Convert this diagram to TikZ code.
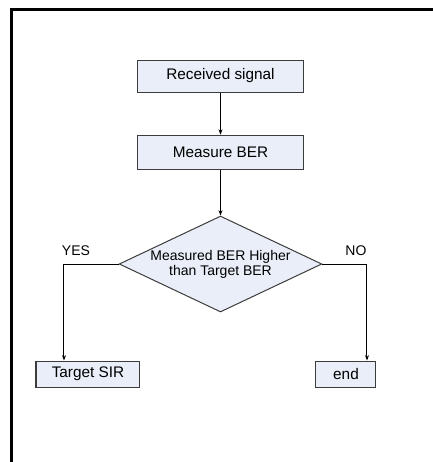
\documentclass[tikz,border=0pt]{standalone}
\usepackage{fontspec}
\setmainfont{Liberation Sans}
\usepackage{tikz}
\usetikzlibrary{shapes.geometric, arrows.meta, positioning, calc}
\definecolor{boxfill}{RGB}{233,238,248}
\definecolor{boxline}{RGB}{60,60,60}

\begin{document}
\begin{tikzpicture}[x=0.75pt,y=-0.75pt,
    >={Stealth[length=4pt,width=3pt]},
    font=\fontsize{10.5}{11.25}\selectfont,
    blockbox/.style={rectangle,draw=boxline,fill=boxfill,line width=0.75pt,inner sep=0pt,
        font=\fontsize{11.5}{13}\selectfont},
    decisionbox/.style={diamond,draw=boxline,fill=boxfill,line width=0.75pt,inner sep=0pt,aspect=2.1,
        minimum width=152pt,minimum height=72pt,align=center},
    link/.style={->,line width=0.75pt,black}]
    \useasboundingbox (0,0) rectangle (433,462);

    % Cornice
    \draw[line width=2.25pt] (12,462) -- (12,9) -- (433,9);

    % Blocchi principali
    \node[blockbox,minimum width=125pt,minimum height=24pt] (recv) at (220.5,76) {Received signal};
    \node[blockbox,minimum width=125pt,minimum height=26pt] (meas) at (220.5,152.5) {Measure BER};

    % Decisione
    \node[decisionbox] (dec) at (220.5,264) {Measured BER Higher\\than Target BER};

    % Uscite
    \node[blockbox,minimum width=78pt,minimum height=19.5pt] (sir) at (88,374) {Target SIR};
    \node[blockbox,minimum width=45pt,minimum height=19.5pt] (fine) at (346,374) {end};

    \node (yes) at (76,251) {YES};
    \node (no) at (356,251) {NO};

    % Connessioni
    \coordinate (ycorner) at (64,264);
    \coordinate (ncorner) at (367,264);
    \draw[link] (recv) -- (meas);
    \draw[link] (meas) -- (dec);
    \draw[link] (dec.west) -- (ycorner) -- (ycorner |- sir.north);
    \draw[link] (dec.east) -- (ncorner) -- (ncorner |- fine.north);
\end{tikzpicture}
\end{document}
